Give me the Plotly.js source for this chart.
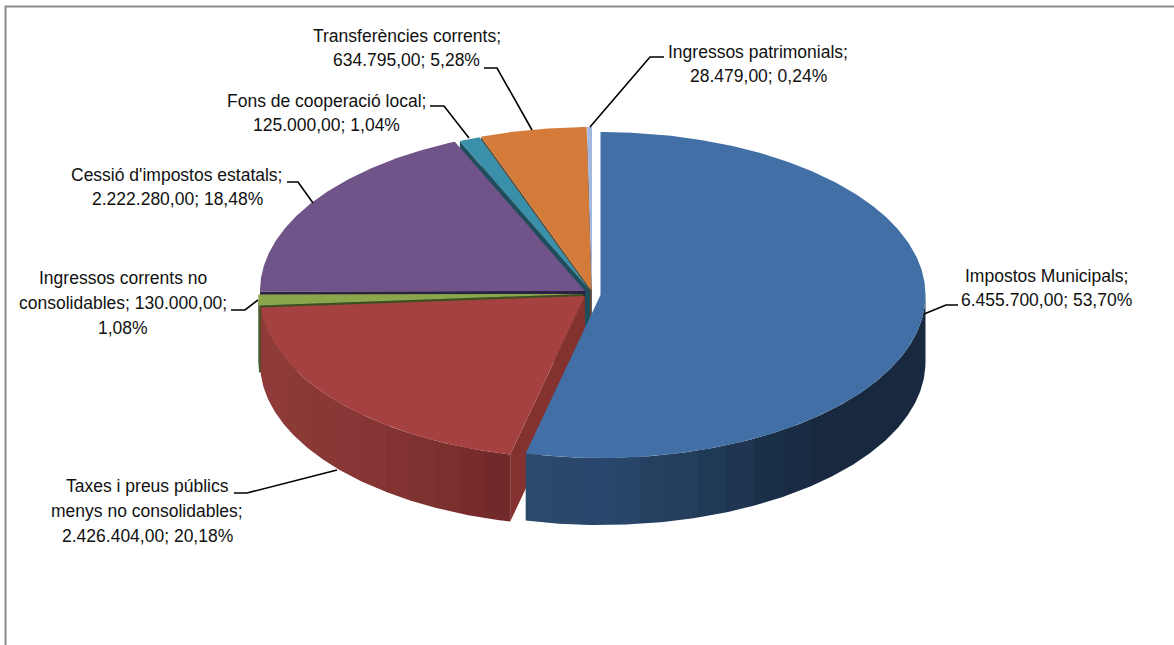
<!DOCTYPE html>
<html>
<head>
<meta charset="utf-8">
<script src="https://cdn.plot.ly/plotly-3.0.1.min.js"></script>
<style>html,body{margin:0;padding:0;background:#fff;overflow:hidden}#chart{width:1174px;height:645px}</style>
</head>
<body>
<div id="chart"></div>
<script>
// Data, clockwise from twelve o'clock
const categories = ["Impostos Municipals", "Taxes i preus públics menys no consolidables", "Ingressos corrents no consolidables", "Cessió d'impostos estatals", "Fons de cooperació local", "Transferències corrents", "Ingressos patrimonials"];
const values = [6455700, 2426404, 130000, 2222280, 125000, 634795, 28479];
const labelTexts = [
  "Impostos Municipals;<br>6.455.700,00; 53,70%",
  "Taxes i preus públics<br>menys no consolidables;<br>2.426.404,00; 20,18%",
  "Ingressos corrents no<br>consolidables; 130.000,00;<br>1,08%",
  "Cessió d'impostos estatals;<br>2.222.280,00; 18,48%",
  "Fons de cooperació local;<br>125.000,00; 1,04%",
  "Transferències corrents;<br>634.795,00; 5,28%",
  "Ingressos patrimonials;<br>28.479,00; 0,24%"
];

// Styling
const topColors = ["#426FA5", "#A54140", "#8AA84B", "#6F5389", "#3A90AB", "#D57B39", "#A3B6DE"];
const cutColors = ["#426FA5", "#84322F", "#3F5020", "#2E2244", "#1F4D5C", "#6B4A2A", "#5A6E90"];
const wallBands = {
  0: ["#2A4A6C", "#2A486C", "#2A466C", "#28466A", "#243F60", "#263E5E", "#1F3A57", "#203650", "#1A3049", "#1A2C44", "#18293F", "#18293F", "#18293F", "#18293F"],
  1: ["#8F3B39", "#8B3A36", "#8A3836", "#873735", "#853533", "#823331", "#7E3230", "#7C302E", "#772C2B", "#712A29"],
  2: ["#3F5020", "#3F5020"]
};
// Geometry of the extruded, tilted disc (in page pixels on the hidden axes)
const rx = 325, ry = 163, depth = 67;
const centres = [[600.5, 295], [585, 296], [583.3, 294], [585, 291], [590, 290.5], [591.5, 290], [592, 290]];
const drawOrder = [6, 5, 4, 3, 2, 1, 0];

const total = values.reduce((a, b) => a + b, 0);
const starts = [];
values.reduce((acc, v, i) => { starts[i] = acc; return acc + v / total * 360; }, 0);
const ends = values.map((v, i) => starts[i] + v / total * 360);

function rim(c, deg, dy) {
  const t = deg * Math.PI / 180;
  return [c[0] + rx * Math.sin(t), c[1] - ry * Math.cos(t) + (dy || 0)];
}
function arc(c, a0, a1, dy) {
  const n = Math.max(2, Math.ceil(Math.abs(a1 - a0) * 2)), pts = [];
  for (let k = 0; k <= n; k++) pts.push(rim(c, a0 + (a1 - a0) * k / n, dy));
  return pts;
}
function poly(pts, extra, name) {
  return Object.assign({
    type: "scatter", mode: "lines", name: name,
    x: pts.map(p => p[0]), y: pts.map(p => p[1]),
    fill: "toself", line: { width: 0 }, hoverinfo: "name", showlegend: false
  }, extra);
}
function bandScale(colors) {
  const s = [], n = colors.length;
  colors.forEach((col, i) => { s.push([i / n, col]); s.push([(i + 1) / n, col]); });
  return s;
}

const traces = [];
drawOrder.forEach(i => {
  const c = centres[i], a0 = starts[i], a1 = ends[i], name = categories[i];
  // cut face at the slice's leading edge
  if (i !== 0) {
    const r = rim(c, a0);
    traces.push(poly([c, r, [r[0], r[1] + depth], [c[0], c[1] + depth], c], { fillcolor: cutColors[i] }, name));
  }
  // outer wall (only the part that faces the viewer)
  const w0 = Math.max(a0, 90), w1 = Math.min(a1, 270);
  if (w1 > w0 && wallBands[i]) {
    const pts = arc(c, w0, w1).concat(arc(c, w1, w0, depth));
    pts.push(pts[0]);
    traces.push(poly(pts, {
      fillgradient: { type: "horizontal", colorscale: bandScale(wallBands[i]) }
    }, name));
  }
  // top face
  const topPts = [c].concat(arc(c, a0, a1)); topPts.push(c);
  traces.push(poly(topPts, { fillcolor: topColors[i] }, name));
});

// Label anchors (middle of each block) and leader lines, page pixels
const labelPos = [[1046, 288], [147, 511], [123, 303], [177, 187], [326, 113], [406.5, 48], [758, 64]];
const linePitch = 24.8;
const leaders = [
  [[924, 314], [946, 305], [958, 305]],
  [[234, 493], [247, 493], [337, 470]],
  [[231, 310], [245, 310], [258, 300]],
  [[287, 182], [298, 182], [313, 203]],
  [[430, 106], [444, 106], [469, 138]],
  [[484, 68], [497, 68], [532, 130]],
  [[664, 57], [650, 57], [590, 127]]
];

const annotations = [];
labelTexts.forEach((t, i) => {
  const lines = t.split("<br>");
  lines.forEach((line, k) => annotations.push({
    x: labelPos[i][0], y: labelPos[i][1] + (k - (lines.length - 1) / 2) * linePitch,
    xref: "x", yref: "y", text: line, showarrow: false,
    xanchor: "center", yanchor: "middle", align: "center",
    font: { family: "Liberation Sans, Arial, sans-serif", size: 17.5, color: "#111" }
  }));
});
const shapes = leaders.map(l => ({
  type: "path", xref: "x", yref: "y",
  path: "M" + l.map(p => p[0] + "," + p[1]).join(" L"),
  line: { color: "#000", width: 1.6 }
}));
shapes.push({ type: "path", xref: "x", yref: "y", path: "M5.5,645 L5.5,6.5 L1174,6.5", line: { color: "#8a8a8a", width: 2 } });

const hiddenAxis = r => ({ range: r, visible: false, fixedrange: true, showgrid: false, zeroline: false });
Plotly.newPlot("chart", traces, {
  width: 1174, height: 645, margin: { l: 0, r: 0, t: 0, b: 0, pad: 0 },
  paper_bgcolor: "#fff", plot_bgcolor: "#fff", showlegend: false,
  xaxis: hiddenAxis([0, 1174]), yaxis: hiddenAxis([645, 0]),
  annotations: annotations, shapes: shapes
}, { displayModeBar: false });
</script>
</body>
</html>
